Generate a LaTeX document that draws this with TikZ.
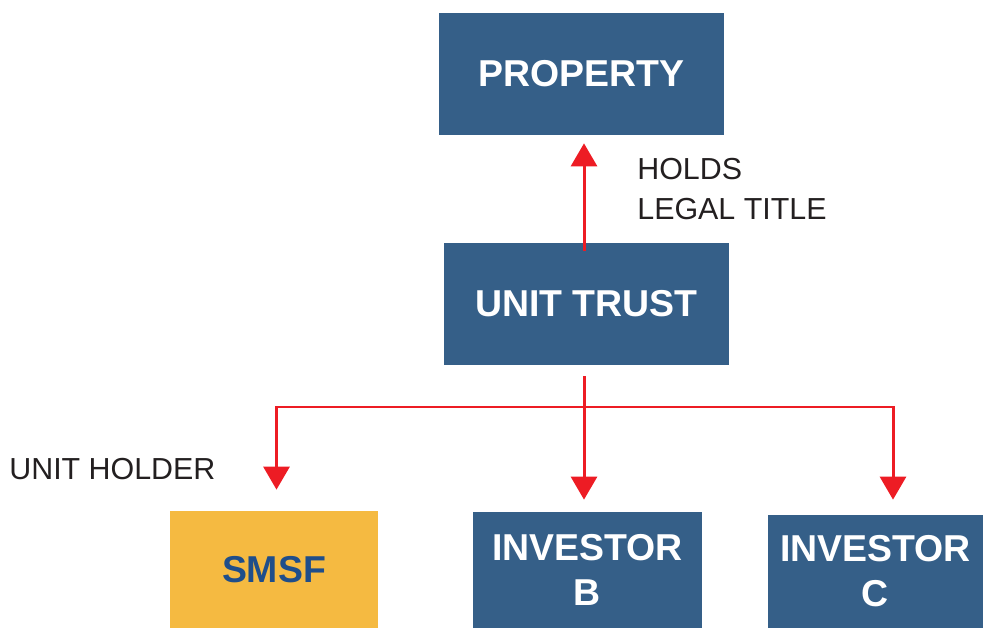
\documentclass[tikz,border=0pt]{standalone}
\usepackage{fontspec}
\setmainfont{Liberation Sans}
\usetikzlibrary{arrows.meta}
\definecolor{boxblue}{HTML}{355F88}
\definecolor{linkred}{HTML}{ED1C24}
\definecolor{smsfyellow}{HTML}{F5BA41}
\definecolor{smsftext}{HTML}{1F4E8A}
\definecolor{notegray}{HTML}{231F20}
\begin{document}
\begin{tikzpicture}
  \tikzstyle{entity}=[rectangle,fill=boxblue,text=white,inner
  sep=0pt,align=center,font=\fontsize{21.3}{25.6}\selectfont\bfseries]
  \tikzstyle{note}=[inner sep=0pt,anchor=base west,align=left,
  text=notegray,font=\fontsize{17.3}{22.2}\selectfont]
  \tikzstyle{link}=[draw,linkred,line width=1.7pt]
  \tikzstyle{arrow}=[link,-{Triangle[length=0.46cm,width=0.52cm]}]
  \useasboundingbox (0,0) rectangle (19.66,-12.56);
  \node[entity,minimum width=5.7cm,minimum height=2.44cm](P) at (11.63,-1.48){PROPERTY};
  \node[entity,minimum width=5.7cm,minimum height=2.44cm](U) at (11.73,-6.08){UNIT TRUST};
  \node[entity,fill=smsfyellow,text=smsftext,minimum width=4.16cm,minimum
  height=2.34cm](S) at (5.48,-11.39){SMSF};
  \node[entity,minimum width=4.58cm,minimum height=2.32cm](B) at (11.75,-11.40){INVESTOR\\B};
  \node[entity,minimum width=4.30cm,minimum height=2.26cm](C) at (17.51,-11.43){INVESTOR\\C};
  \node[note](holds) at (12.74,-4.38){HOLDS\\LEGAL TITLE};
  \node[note](holder) at (0.18,-9.58){UNIT HOLDER};
  \coordinate (split) at (11.68,-8.14);
  \coordinate (lsplit) at (5.53,-8.14);
  \coordinate (rsplit) at (17.86,-8.14);
  \path[arrow,shorten >=0.16cm] ([yshift=-0.16cm]U.north -| split) -- (P.south -| split);
  \path[link] ([yshift=-0.22cm]U.south -| split) -- (split);
  \path[link,line cap=rect] (lsplit) -- (rsplit);
  \path[arrow,shorten >=0.42cm] (lsplit) -- (lsplit |- S.north);
  \path[arrow,shorten >=0.24cm] (split) -- (split |- B.north);
  \path[arrow,shorten >=0.30cm] (rsplit) -- (rsplit |- C.north);
\end{tikzpicture}
\end{document}
